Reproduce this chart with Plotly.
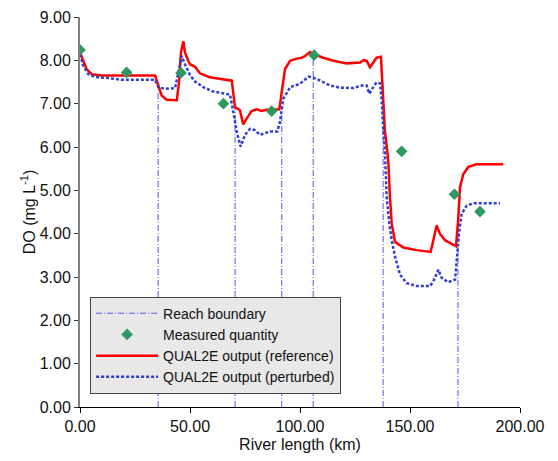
import plotly.graph_objects as go

# Reference (QUAL2E output, reference) DO profile
ref_km = [0, 1.5, 3, 5.3, 9.9, 20, 34.1, 35.6, 37.1, 39.4, 44, 45, 45.9, 47, 47.7, 49.2, 50, 52.3,
          54.5, 59, 65.2, 69, 69.7, 70.5, 72.7, 74.2, 75.8, 78, 80.3, 82.6, 84.8, 90.6, 91.7,
          93.2, 95.5, 98.5, 100.8, 102.3, 104.5, 106.4, 110.6, 115.2, 121.2, 127.3, 128.8, 130.3,
          131.8, 133.3, 134.8, 136.8, 137.9, 138.6, 139.7, 140.2, 140.9, 141.7, 143.2, 147, 153,
          159.4, 160.6, 162.1, 163.6, 165.9, 170.9, 172, 172.7, 174.2, 176.5, 180.3, 192.4]
ref_do = [8.18, 7.99, 7.80, 7.68, 7.65, 7.65, 7.65, 7.42, 7.19, 7.09, 7.08, 7.49, 8.18, 8.44, 8.18, 7.99, 7.91, 7.85,
          7.70, 7.61, 7.55, 7.53, 7.23, 6.92, 6.85, 6.52, 6.66, 6.83, 6.87, 6.83, 6.86, 6.87, 7.27,
          7.80, 7.99, 8.04, 8.06, 8.10, 8.19, 8.14, 8.06, 7.99, 7.93, 7.95, 8.00, 7.99,
          7.84, 7.95, 8.06, 8.08, 7.11, 6.36, 5.90, 5.60, 4.84, 4.23, 3.81, 3.68, 3.62,
          3.58, 3.85, 4.19, 4.00, 3.85, 3.71, 4.38, 5.06, 5.37, 5.54, 5.60, 5.60]

# Perturbed QUAL2E output
per_km = [0, 1.5, 3.8, 6.8, 12.9, 18.9, 34.1, 35.6, 38.6, 43.2, 44.7, 46.2, 47.7, 50, 52.3, 56, 60.6,
          65.2, 68.2, 69.7, 71.2, 73, 75, 77.3, 79.5, 81.8, 86.4, 89.7, 90.9, 92.4, 95.5, 100,
          103.8, 104.5, 107.6, 113.6, 118.2, 124.2, 128, 130.3, 131.5, 133.3, 134.8, 136.4,
          137.1, 137.9, 138.6, 139.4, 140.6, 141.7, 143.2, 145.5, 148.5, 153, 159.1, 160.6,
          162.9, 164.4, 167.4, 170.5, 171.5, 172.4, 173.5, 175.8, 178.8, 190.9]
per_do = [8.14, 7.87, 7.68, 7.62, 7.59, 7.55, 7.55, 7.38, 7.34, 7.36, 7.72, 8.10, 7.91, 7.66, 7.51, 7.38, 7.28,
          7.23, 7.21, 6.81, 6.36, 6.01, 6.28, 6.42, 6.39, 6.28, 6.36, 6.36, 6.58, 7.11, 7.38, 7.46,
          7.62, 7.62, 7.57, 7.42, 7.37, 7.36, 7.42, 7.42, 7.23, 7.38, 7.49, 7.47,
          7.11, 6.36, 5.90, 4.84, 4.23, 3.85, 3.47, 3.05, 2.86, 2.79, 2.79, 2.90,
          3.17, 2.98, 2.88, 2.94, 3.47, 4.08, 4.46, 4.65, 4.70, 4.70]

# Measured DO
meas_km = [0, 21.2, 45.9, 65.2, 87.1, 106.4, 146.2, 170.2, 181.8]
meas_do = [8.24, 7.72, 7.71, 7.00, 6.83, 8.12, 5.90, 4.91, 4.51]

# Reach boundaries (km) and the height each line reaches
reach_km = [35.5, 70.5, 91.7, 106.0, 137.8, 171.8]
reach_top = [7.3, 6.9, 6.95, 8.12, 7.4, 4.6]

x_ticks = [0, 50, 100, 150, 200]
x_ticklabels = ["0.00", "50.00", "100.00", "150.00", "200.00"]
y_ticks = list(range(10))
y_ticklabels = [f"{v:.2f}" for v in y_ticks]

rx, ry = [], []
for k, t in zip(reach_km, reach_top):
    rx += [k, k, None]
    ry += [0, t, None]

FONT = "Liberation Sans, Arial, sans-serif"

fig = go.Figure()
fig.add_trace(go.Scatter(x=rx, y=ry, mode="lines", name="Reach boundary",
                         line=dict(color="#5555ee", width=1, dash="6px,2px,1px,2px"),
                         legendrank=1))
fig.add_trace(go.Scatter(x=ref_km, y=ref_do, mode="lines", name="QUAL2E output (reference)",
                         line=dict(color="#ff0000", width=2.5), legendrank=3))
fig.add_trace(go.Scatter(x=per_km, y=per_do, mode="lines", name="QUAL2E output (perturbed)",
                         line=dict(color="#2f3fd0", width=2.5, dash="3px,2px"), legendrank=4))
fig.add_trace(go.Scatter(x=meas_km, y=meas_do, mode="markers", name="Measured quantity",
                         marker=dict(symbol="diamond", color="#2e9860", size=9), legendrank=2))

fig.update_layout(
    width=558, height=461,
    margin=dict(l=72, r=46, t=9, b=62, autoexpand=False),
    paper_bgcolor="white", plot_bgcolor="white",
    font=dict(family=FONT, size=16, color="#111"),
    showlegend=True,
    legend=dict(x=0.023, y=0.283, xanchor="left", yanchor="top",
                bgcolor="#e8e8e8", bordercolor="#444", borderwidth=1,
                font=dict(family=FONT, size=14, color="#111"),
                itemwidth=62, tracegroupgap=0),
)
fig.update_xaxes(range=[0, 200], tickvals=x_ticks, ticktext=x_ticklabels,
                 tickfont=dict(size=16), automargin=False, ticklabeloverflow="allow",
                 showgrid=False, zeroline=False, showline=True, linecolor="black", linewidth=1,
                 ticks="outside", ticklen=5, tickcolor="black",
                 title=dict(text="River length (km)", font=dict(size=16), standoff=4))
fig.update_yaxes(range=[0, 9], tickvals=y_ticks, ticktext=y_ticklabels,
                 tickfont=dict(size=16), automargin=False, ticklabeloverflow="allow",
                 showgrid=False, zeroline=False, showline=True, linecolor="#808080", linewidth=2,
                 ticks="outside", ticklen=4, tickcolor="#333",
                 title=dict(text="DO (mg L<sup>-1</sup>)", font=dict(size=16), standoff=0))

fig.write_html("out.html")
